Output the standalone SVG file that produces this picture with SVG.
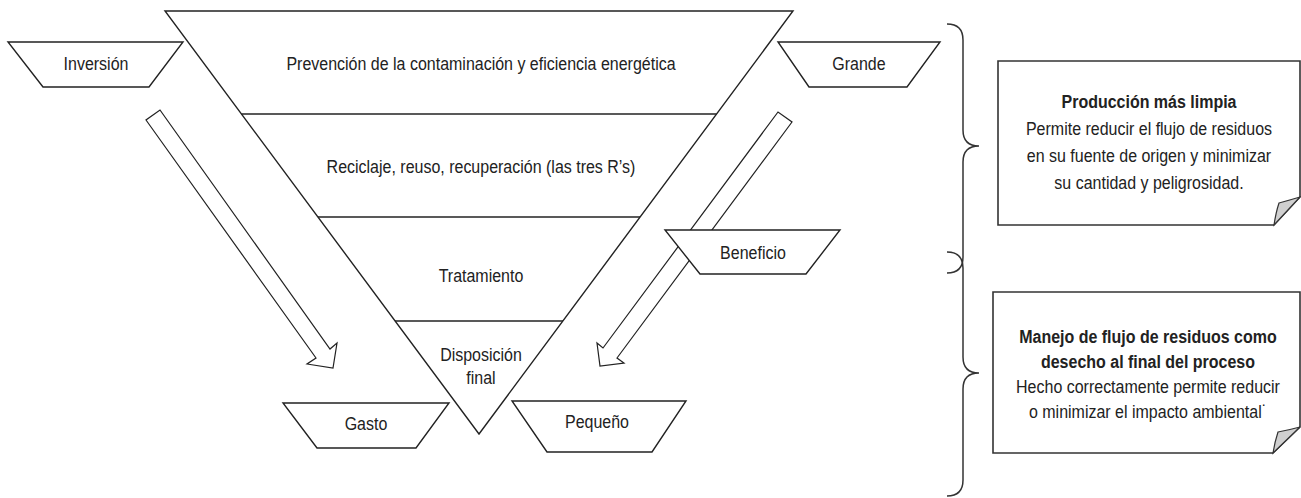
<svg xmlns="http://www.w3.org/2000/svg" width="1301" height="498" viewBox="0 0 1301 498">
<style>
.shape{fill:#fff;stroke:#222;stroke-width:1.4;stroke-linejoin:miter}
.line{fill:none;stroke:#222;stroke-width:1.4}
.arrow{fill:#fff;stroke:#222;stroke-width:1.2;stroke-linejoin:miter}
.brace{fill:none;stroke:#333;stroke-width:1.5}
.note{fill:#fff;stroke:#333;stroke-width:1.6}
.flap{fill:#d0d0d0;stroke:#333;stroke-width:1.2}
text{font-family:"Liberation Sans",Arial,sans-serif;font-size:16px;fill:#222;text-anchor:middle;transform-box:fill-box;transform-origin:center;transform:scaleY(1.12)}
.b{font-weight:bold}
</style>
<rect width="1301" height="498" fill="#fff"/>
<g id="piramide">
<polygon class="shape" points="165,11 793,11 479,434"/>
<line class="line" x1="241.5" y1="114" x2="716.5" y2="114"/>
<line class="line" x1="318" y1="217" x2="640" y2="217"/>
<line class="line" x1="395" y1="321" x2="563" y2="321"/>
</g>
<g id="nivel-prevencion"><text x="481" y="69">Prevención de la contaminación y eficiencia energética</text></g>
<g id="nivel-reciclaje"><text x="481" y="172">Reciclaje, reuso, recuperación (las tres R’s)</text></g>
<g id="nivel-tratamiento"><text x="481" y="281">Tratamiento</text></g>
<g id="nivel-disposicion"><text x="481" y="360">Disposición</text><text x="481" y="383">final</text></g>
<g id="connectors">
<polygon class="arrow" points="160,110 330,349 337,343 333,368 307,364 316,358 146,120"/>
<polygon class="arrow" points="778,112 603,348 597,343 600,366 624,363 617,358 792,122"/>
</g>
<g id="inversion"><polygon class="shape" points="8,42 183,42 149,87 43,87"/><text x="96" y="69">Inversión</text></g>
<g id="grande"><polygon class="shape" points="778,42 940,42 907,87 809,87"/><text x="859" y="69">Grande</text></g>
<g id="beneficio"><polygon class="shape" points="665,230 840,230 806,274 700,274"/><text x="753" y="258">Beneficio</text></g>
<g id="gasto"><polygon class="shape" points="283,403 449,403 416,448 317,448"/><text x="366" y="429">Gasto</text></g>
<g id="pequeno"><polygon class="shape" points="512,401 686,401 652,452 547,452"/><text x="597" y="427">Pequeño</text></g>
<g id="llaves">
<path class="brace" d="M947,24 Q963,24 963,40 L963,130 Q963,146 979,146 Q963,146 963,162 L963,257 Q963,273 947,273"/>
<path class="brace" d="M947,252 Q963,252 963,268 L963,357 Q963,373 979,373 Q963,373 963,389 L963,480 Q963,496 947,496"/>
</g>
<g id="produccion-limpia">
<path class="note" d="M998,61 H1300 V197 L1274,225 H998 Z"/>
<path class="flap" d="M1274,225 Q1276,212 1279,203 Q1290,200 1300,197 Z"/>
<text class="b" x="1149" y="107">Producción más limpia</text>
<text x="1149" y="134">Permite reducir el flujo de residuos</text>
<text x="1149" y="161">en su fuente de origen y minimizar</text>
<text x="1149" y="188">su cantidad y peligrosidad.</text>
</g>
<g id="manejo-residuos">
<path class="note" d="M993,292 H1300 V427 L1273,453 H993 Z"/>
<path class="flap" d="M1273,453 Q1275,441 1278,432 Q1289,430 1300,427 Z"/>
<text class="b" x="1148" y="342">Manejo de flujo de residuos como</text>
<text class="b" x="1148" y="367">desecho al final del proceso</text>
<text x="1148" y="392">Hecho correctamente permite reducir</text>
<text x="1148" y="417">o minimizar el impacto ambiental˙</text>
</g>
</svg>
